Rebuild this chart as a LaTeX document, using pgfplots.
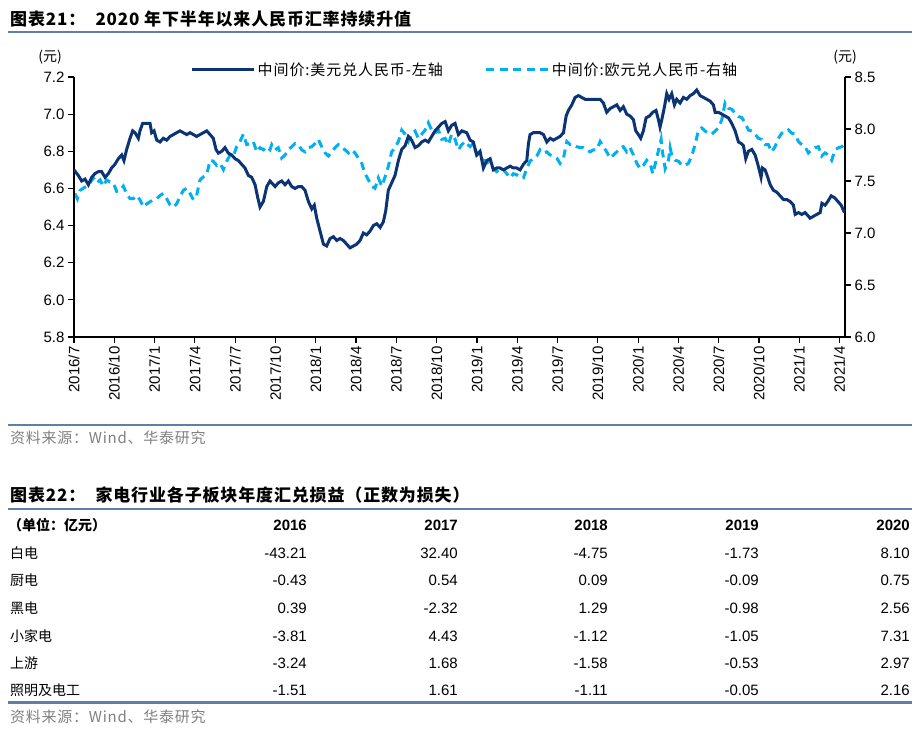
\documentclass[border=0pt]{standalone}
\usepackage{pgfplots}
\pgfplotsset{compat=1.18}
\usepackage{fontspec}
\setmainfont{Liberation Sans}
\newfontfamily\cjk{Noto Sans CJK SC}
\newfontfamily\cjkt{Noto Sans CJK SC}[LetterSpace=5]
\newfontfamily\cjkl{Noto Sans CJK SC}[LetterSpace=6]
\definecolor{navy}{RGB}{12,52,117}
\definecolor{lblue}{RGB}{0,176,240}
\definecolor{rulec}{RGB}{96,126,170}
\definecolor{srcgray}{RGB}{128,128,128}
\begin{document}
\begin{tikzpicture}
\path[use as bounding box] (0pt,0pt) rectangle (919pt,-735pt);
% ---------- chart 21 title ----------
\node[anchor=west, inner sep=0pt] at (10pt,-19pt) {\cjkt\bfseries\fontsize{17}{20}\selectfont 图表21：\hspace{0.6em}2020 年下半年以来人民币汇率持续升值};
\draw[rulec, line width=2.5pt] (8pt,-32pt) -- (912pt,-32pt);
\node[inner sep=0pt] at (50pt,-57pt) {\cjk\fontsize{14}{16}\selectfont (元)};
\node[inner sep=0pt] at (845pt,-57pt) {\cjk\fontsize{14}{16}\selectfont (元)};
% ---------- right axis (EUR) ----------
\begin{axis}[
  at={(74pt,-337pt)}, anchor=south west,
  scale only axis, width=771pt, height=260pt,
  xmin=0, xmax=57.4, ymin=6, ymax=8.5,
  axis y line*=right, axis x line=none,
  axis line style={-, line width=1.2pt},
  tick align=outside, major tick length=6pt,
  tick style={line width=1.2pt, black},
  ytick={6,6.5,7,7.5,8,8.5},
  /pgf/number format/assume math mode=true,
  yticklabel style={/pgf/number format/.cd, fixed, fixed zerofill, precision=1, /tikz/.cd, font=\fontsize{15}{18}\selectfont},
]
\addplot[lblue, line width=3pt, dash pattern=on 8pt off 5.5pt] coordinates {
(0.07,7.38) (0.25,7.33) (0.45,7.41) (0.69,7.43) (0.94,7.45) (1.19,7.48) (1.44,7.53) (1.69,7.48) (1.94,7.51) (2.18,7.45) (2.43,7.51) (2.68,7.49) (2.93,7.48) (3.18,7.40) (3.43,7.41) (3.67,7.45) (3.92,7.38) (4.17,7.33) (4.42,7.33) (4.67,7.36) (4.91,7.32) (5.16,7.25) (5.41,7.28) (5.66,7.30) (5.91,7.32) (6.16,7.33) (6.40,7.36) (6.65,7.38) (6.90,7.33) (7.15,7.27) (7.40,7.25) (7.64,7.28) (7.89,7.35) (8.14,7.41) (8.39,7.43) (8.64,7.38) (8.89,7.32) (9.13,7.36) (9.38,7.51) (9.63,7.54) (9.88,7.56) (10.13,7.70) (10.37,7.69) (10.62,7.65) (10.87,7.67) (11.12,7.61) (11.37,7.69) (11.62,7.75) (11.86,7.74) (12.11,7.83) (12.36,7.88) (12.61,7.95) (12.86,7.85) (13.10,7.86) (13.35,7.88) (13.60,7.78) (13.85,7.82) (14.10,7.80) (14.35,7.83) (14.59,7.80)
(14.72,7.85) (14.97,7.80) (15.21,7.82) (15.46,7.72) (15.71,7.75) (15.96,7.80) (16.21,7.83) (16.46,7.86) (16.70,7.85) (16.95,7.80) (17.20,7.78) (17.45,7.82) (17.70,7.83) (17.94,7.86) (18.19,7.90) (18.44,7.83) (18.69,7.77) (18.94,7.74) (19.19,7.78) (19.43,7.82) (19.68,7.85) (19.93,7.82) (20.18,7.80) (20.43,7.77) (20.68,7.80) (20.92,7.77) (21.17,7.72) (21.42,7.67) (21.67,7.57) (21.92,7.51) (22.17,7.45) (22.41,7.43) (22.66,7.53) (22.91,7.45) (23.16,7.54) (23.40,7.64) (23.65,7.78) (23.90,7.82) (24.15,7.88) (24.40,7.99) (24.65,7.95) (24.89,7.88) (25.14,7.95) (25.39,7.98) (25.64,7.91) (25.89,7.95) (26.14,7.99) (26.38,8.06) (26.63,7.99) (26.88,7.96) (27.13,7.99) (27.38,7.90) (27.63,7.91) (27.87,7.85) (28.12,7.95) (28.37,7.90) (28.62,7.80) (28.87,7.85) (29.11,7.88)
(29.24,7.86) (29.49,7.83) (29.73,7.86) (29.98,7.75) (30.23,7.72) (30.48,7.70) (30.73,7.69) (30.98,7.65) (31.22,7.62) (31.47,7.59) (31.72,7.62) (31.97,7.61) (32.22,7.57) (32.47,7.53) (32.71,7.57) (32.96,7.56) (33.21,7.53) (33.46,7.53) (33.71,7.62) (33.95,7.69) (34.20,7.72) (34.45,7.74) (34.70,7.80) (34.95,7.77) (35.20,7.78) (35.45,7.75) (35.69,7.74) (35.94,7.72) (36.19,7.67) (36.44,7.72) (36.69,7.88) (36.94,7.85) (37.18,7.85) (37.43,7.83) (37.68,7.82) (37.93,7.82) (38.18,7.80) (38.42,7.78) (38.67,7.80) (38.92,7.80) (39.17,7.88) (39.42,7.83) (39.66,7.78) (39.91,7.72) (40.16,7.75) (40.41,7.78) (40.66,7.82) (40.90,7.83) (41.15,7.78) (41.40,7.82) (41.65,7.75) (41.90,7.67) (42.14,7.62) (42.39,7.65) (42.64,7.70) (42.89,7.67) (43.09,7.57) (43.38,7.72)
(43.71,7.90) (43.81,7.78) (44.01,7.62) (44.26,7.70) (44.38,7.82) (44.50,7.75) (44.75,7.70) (45.00,7.69) (45.25,7.65) (45.49,7.65) (45.74,7.67) (45.99,7.74) (46.24,7.85) (46.49,7.99) (46.74,8.01) (46.98,7.98) (47.23,7.96) (47.48,7.95) (47.73,7.98) (47.98,8.01) (48.23,8.09) (48.47,8.25) (48.72,8.20) (48.97,8.19) (49.22,8.15) (49.47,8.12) (49.71,8.11) (49.96,8.06) (50.21,7.99) (50.46,7.98) (50.71,7.95) (50.95,7.91) (51.20,7.90) (51.45,7.85) (51.70,7.85) (51.94,7.78) (52.19,7.83) (52.44,7.91) (52.69,7.96) (52.94,7.96) (53.19,7.99) (53.43,7.96) (53.68,7.95) (53.93,7.88) (54.18,7.85) (54.43,7.83) (54.67,7.77) (54.92,7.80) (55.17,7.82) (55.42,7.83) (55.67,7.74) (55.91,7.77) (56.16,7.75) (56.41,7.70) (56.66,7.80) (56.91,7.82) (57.16,7.83) (57.36,7.85)
};
\end{axis}
% ---------- left axis (USD) ----------
\begin{axis}[
  at={(74pt,-337pt)}, anchor=south west,
  scale only axis, width=771pt, height=260pt,
  xmin=0, xmax=57.4, ymin=5.8, ymax=7.2,
  axis x line*=bottom, axis y line*=left,
  axis line style={-, line width=1.2pt},
  tick align=outside, major tick length=6pt,
  tick style={line width=1.2pt, black},
  xtick={0,3,6,9,12,15,18,21,24,27,30,33,36,39,42,45,48,51,54,57},
  xticklabels={2016/7,2016/10,2017/1,2017/4,2017/7,2017/10,2018/1,2018/4,2018/7,2018/10,2019/1,2019/4,2019/7,2019/10,2020/1,2020/4,2020/7,2020/10,2021/1,2021/4},
  xticklabel style={rotate=90, anchor=east, font=\fontsize{15}{17}\selectfont},
  ytick={5.8,6,6.2,6.4,6.6,6.8,7,7.2},
  /pgf/number format/assume math mode=true,
  yticklabel style={/pgf/number format/.cd, fixed, fixed zerofill, precision=1, /tikz/.cd, font=\fontsize{15}{18}\selectfont},
  legend style={at={(0.507,1.027)}, anchor=center, draw=none, fill=none, legend columns=2,
    font=\cjkl\fontsize{15}{17}\selectfont, inner sep=0pt,
    /tikz/every even column/.append style={column sep=40pt}},
  legend image code/.code={\draw[#1] (0pt,0pt) -- (57pt,0pt); \path (0pt,0pt) -- (62pt,0pt);},
]
\addplot[navy, line width=3pt] coordinates {
(0.00,6.70) (0.32,6.67) (0.57,6.64) (0.82,6.65) (1.07,6.62) (1.32,6.66) (1.56,6.68) (1.81,6.69) (2.06,6.69) (2.31,6.66) (2.56,6.68) (2.80,6.71) (3.05,6.73) (3.30,6.76) (3.55,6.78) (3.72,6.75) (3.92,6.81) (4.17,6.87) (4.37,6.91) (4.54,6.90) (4.79,6.87) (4.91,6.91) (5.11,6.95) (5.36,6.95) (5.66,6.95) (5.78,6.90) (5.96,6.91) (6.16,6.86) (6.40,6.85) (6.65,6.87) (6.90,6.86) (7.15,6.88) (7.40,6.89) (7.64,6.90) (7.89,6.91) (8.14,6.90) (8.39,6.89) (8.64,6.90) (8.89,6.89) (9.13,6.88) (9.38,6.89) (9.63,6.90) (9.88,6.91) (10.13,6.89) (10.37,6.87) (10.57,6.81) (10.75,6.79) (11.00,6.80) (11.24,6.82) (11.49,6.79) (11.74,6.78) (11.99,6.76) (12.24,6.75) (12.48,6.73) (12.73,6.71) (12.98,6.67) (13.23,6.66) (13.48,6.62) (13.68,6.55) (13.85,6.50) (14.10,6.53) (14.35,6.61) (14.59,6.64)
(14.97,6.61) (15.21,6.63) (15.46,6.64) (15.71,6.62) (15.96,6.64) (16.21,6.61) (16.46,6.60) (16.70,6.61) (16.95,6.61) (17.20,6.59) (17.45,6.53) (17.70,6.49) (17.89,6.51) (18.07,6.44) (18.32,6.37) (18.57,6.30) (18.81,6.29) (19.06,6.33) (19.31,6.34) (19.56,6.32) (19.81,6.33) (20.05,6.32) (20.30,6.30) (20.55,6.28) (20.80,6.29) (21.05,6.30) (21.30,6.32) (21.54,6.36) (21.79,6.35) (22.04,6.37) (22.29,6.40) (22.54,6.41) (22.79,6.39) (23.03,6.42) (23.21,6.48) (23.40,6.59) (23.65,6.63) (23.90,6.67) (24.15,6.75) (24.40,6.81) (24.65,6.83) (24.89,6.88) (25.14,6.86) (25.39,6.82) (25.64,6.83) (25.89,6.85) (26.14,6.86) (26.38,6.85) (26.63,6.88) (26.88,6.91) (27.13,6.93) (27.38,6.95) (27.63,6.96) (27.87,6.91) (28.12,6.94) (28.37,6.95) (28.62,6.89) (28.87,6.91)
(29.24,6.90) (29.49,6.86) (29.73,6.85) (29.98,6.78) (30.23,6.80) (30.48,6.71) (30.73,6.75) (30.98,6.76) (31.22,6.70) (31.47,6.71) (31.72,6.71) (31.97,6.70) (32.22,6.71) (32.47,6.72) (32.71,6.71) (32.96,6.71) (33.21,6.70) (33.46,6.73) (33.71,6.75) (33.83,6.84) (33.95,6.89) (34.20,6.90) (34.45,6.90) (34.70,6.90) (34.95,6.89) (35.20,6.85) (35.45,6.87) (35.69,6.86) (35.94,6.87) (36.19,6.88) (36.44,6.90) (36.64,6.99) (36.81,7.02) (37.06,7.05) (37.31,7.09) (37.56,7.10) (37.80,7.09) (38.05,7.08) (38.42,7.08) (38.67,7.08) (38.92,7.08) (39.17,7.08) (39.41,7.06) (39.66,7.01) (39.91,7.03) (40.16,7.04) (40.41,7.05) (40.66,7.02) (40.90,7.04) (41.15,7.00) (41.40,6.99) (41.65,6.97) (41.82,6.91) (42.02,6.89) (42.19,6.87) (42.39,6.91) (42.59,6.98) (42.84,6.99) (43.09,7.01) (43.33,7.02) (43.51,6.97) (43.63,6.93)
(43.76,6.97) (43.96,7.04) (44.13,7.11) (44.30,7.08) (44.50,7.11) (44.70,7.05) (44.87,7.08) (45.12,7.06) (45.37,7.09) (45.62,7.08) (45.87,7.10) (46.11,7.11) (46.36,7.13) (46.61,7.10) (46.86,7.09) (47.11,7.08) (47.36,7.07) (47.60,7.05) (47.73,7.01) (47.98,7.01) (48.23,7.00) (48.47,6.99) (48.72,6.98) (48.97,6.95) (49.22,6.91) (49.47,6.85) (49.71,6.84) (49.84,6.83) (50.01,6.76) (50.21,6.80) (50.46,6.81) (50.71,6.78) (50.91,6.73) (51.15,6.66) (51.25,6.71) (51.45,6.70) (51.65,6.66) (51.83,6.62) (52.07,6.59) (52.32,6.58) (52.57,6.56) (52.82,6.54) (53.07,6.54) (53.31,6.53) (53.56,6.51) (53.69,6.46) (53.94,6.47) (54.18,6.46) (54.43,6.47) (54.68,6.45) (54.80,6.44) (55.05,6.45) (55.30,6.46) (55.55,6.47) (55.68,6.52) (55.92,6.51) (56.12,6.53) (56.37,6.56) (56.62,6.55) (56.87,6.53) (57.11,6.51) (57.36,6.47)
};
\addlegendentry{中间价:美元兑人民币-左轴}
\addlegendimage{lblue, line width=3pt, dash pattern=on 8pt off 5.5pt}
\addlegendentry{中间价:欧元兑人民币-右轴}
\end{axis}
% ---------- source 1 ----------
\draw[rulec, line width=2.5pt] (8pt,-425pt) -- (912pt,-425pt);
\node[anchor=west, inner sep=0pt] at (10pt,-438pt) {\cjkt\color{srcgray}\fontsize{15}{17}\selectfont 资料来源：Wind、华泰研究};
% ---------- table 22 ----------
\node[anchor=west, inner sep=0pt] at (10pt,-495pt) {\cjkt\bfseries\fontsize{17}{20}\selectfont 图表22：\hspace{0.6em}家电行业各子板块年度汇兑损益（正数为损失）};
\draw[rulec, line width=2.5pt] (8pt,-509pt) -- (912pt,-509pt);
\node[anchor=west, inner sep=0pt] at (8pt,-525pt) {\cjk\bfseries\fontsize{14}{16}\selectfont （单位：亿元）};
\foreach \yr/\xx in {2016/307,2017/458,2018/608,2019/759,2020/910}
  \node[anchor=east, inner sep=0pt] at (\xx pt,-525pt) {\bfseries\fontsize{15}{18}\selectfont \yr};
\foreach \lab/\yy/\a/\b/\c/\d/\e in {
  白电/553/-43.21/32.40/-4.75/-1.73/8.10,
  厨电/580/-0.43/0.54/0.09/-0.09/0.75,
  黑电/608/0.39/-2.32/1.29/-0.98/2.56,
  小家电/636/-3.81/4.43/-1.12/-1.05/7.31,
  上游/663/-3.24/1.68/-1.58/-0.53/2.97,
  照明及电工/690/-1.51/1.61/-1.11/-0.05/2.16}{
  \node[anchor=west, inner sep=0pt] at (10pt,-\yy pt) {\cjk\fontsize{14}{16}\selectfont \lab};
  \node[anchor=east, inner sep=0pt] at (307pt,-\yy pt) {\fontsize{15}{18}\selectfont \a};
  \node[anchor=east, inner sep=0pt] at (458pt,-\yy pt) {\fontsize{15}{18}\selectfont \b};
  \node[anchor=east, inner sep=0pt] at (608pt,-\yy pt) {\fontsize{15}{18}\selectfont \c};
  \node[anchor=east, inner sep=0pt] at (759pt,-\yy pt) {\fontsize{15}{18}\selectfont \d};
  \node[anchor=east, inner sep=0pt] at (910pt,-\yy pt) {\fontsize{15}{18}\selectfont \e};
}
\draw[rulec, line width=3pt] (8pt,-702pt) -- (912pt,-702pt);
\node[anchor=west, inner sep=0pt] at (10pt,-717pt) {\cjkt\color{srcgray}\fontsize{15}{17}\selectfont 资料来源：Wind、华泰研究};
\end{tikzpicture}
\end{document}
